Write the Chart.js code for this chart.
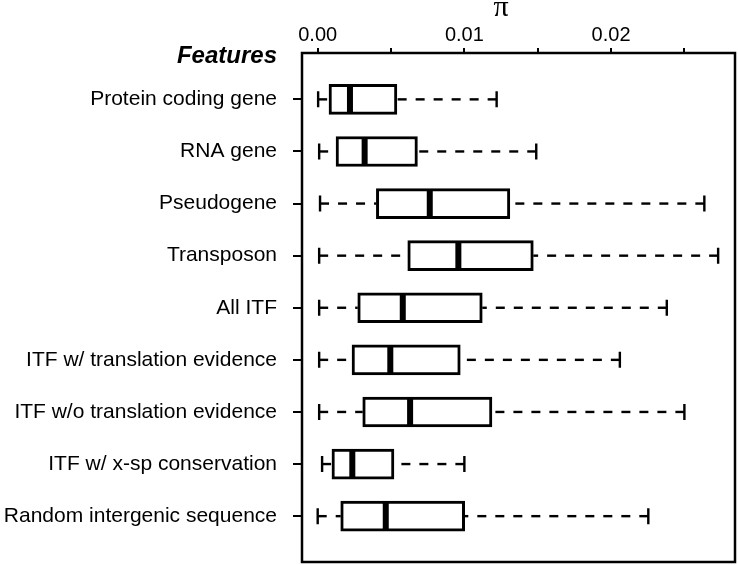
<!DOCTYPE html>
<html>
<head>
<meta charset="utf-8">
<script src="https://cdn.jsdelivr.net/npm/chart.js@4"></script>
<style>
  html, body { margin: 0; padding: 0; background: #fff; }
  #wrap { width: 738px; height: 565px; }
</style>
</head>
<body>
<div id="wrap"><canvas id="chart" width="738" height="565"></canvas></div>
<script>
const features = [
    "Protein coding gene", "RNA gene", "Pseudogene", "Transposon", "All ITF",
    "ITF w/ translation evidence", "ITF w/o translation evidence",
    "ITF w/ x-sp conservation", "Random intergenic sequence"
]
const whiskerLow  = [0.00003, 0.0001, 0.00016, 0.0001, 0.0001, 0.0001, 0.0001, 0.0003, 0.0000]
const q1          = [0.00077, 0.00125, 0.0040, 0.00614, 0.00273, 0.00234, 0.00307, 0.00097, 0.00157]
const median      = [0.0022, 0.0032, 0.00764, 0.00959, 0.0058, 0.00495, 0.0063, 0.00236, 0.00464]
const q3          = [0.0054, 0.0068, 0.0131, 0.0147, 0.01122, 0.00972, 0.01188, 0.0052, 0.01002]
const whiskerHigh = [0.0122, 0.0149, 0.02636, 0.0273, 0.0238, 0.0206, 0.0250, 0.0100, 0.02254]

const xTickValues = [0, 0.005, 0.01, 0.015, 0.02, 0.025]
const xTickLabels = ["0.00", "", "0.01", "", "0.02", ""]

Chart.defaults.font.family = "'Liberation Sans', Arial, sans-serif"
Chart.defaults.color = "#000"

// whiskers go under the boxes, medians + frame on top
const boxExtras = {
    id: "boxExtras",
    beforeDatasetsDraw(chart){
        const {ctx, scales: {x, y}} = chart
        ctx.save()
        ctx.strokeStyle = "#000"
        ctx.lineWidth = 2.4
        features.forEach((f, i)=>{
            const py = y.getPixelForValue(i)
            ctx.setLineDash([9, 9])
            ctx.beginPath()
            ctx.moveTo(x.getPixelForValue(whiskerLow[i]), py)
            ctx.lineTo(x.getPixelForValue(q1[i]), py)
            ctx.stroke()
            ctx.beginPath()
            ctx.moveTo(x.getPixelForValue(whiskerHigh[i]), py)
            ctx.lineTo(x.getPixelForValue(q3[i]), py)
            ctx.stroke()
            ctx.setLineDash([])
            ctx.beginPath()
            ;[whiskerLow[i], whiskerHigh[i]].forEach(v=>{
                const px = x.getPixelForValue(v)
                ctx.moveTo(px, py - 8)
                ctx.lineTo(px, py + 8)
            })
            ctx.stroke()
        })
        ctx.restore()
    },
    afterDatasetsDraw(chart){
        const {ctx, chartArea, scales: {x, y}} = chart
        ctx.save()
        ctx.fillStyle = "#000"
        features.forEach((f, i)=>{
            const py = y.getPixelForValue(i)
            ctx.fillRect(x.getPixelForValue(median[i]) - 3, py - 14, 6, 28)
        })
        ctx.strokeStyle = "#000"
        ctx.lineWidth = 2.5
        ctx.strokeRect(chartArea.left, chartArea.top, chartArea.right - chartArea.left, chartArea.bottom - chartArea.top)

        ctx.textAlign = "right"
        ctx.textBaseline = "alphabetic"
        ctx.font = "italic bold 24px 'Liberation Sans', Arial, sans-serif"
        ctx.fillText("Features", chartArea.left - 25, 63)

        ctx.textAlign = "center"
        ctx.font = "30px 'Liberation Serif', 'DejaVu Serif', serif"
        ctx.fillText("π", (x.getPixelForValue(xTickValues[0]) + x.getPixelForValue(xTickValues[xTickValues.length - 1])) / 2, 16)
        ctx.restore()
    }
}

new Chart(document.querySelector("#chart"), {
    type: "bar",
    data: {
        datasets: [{
            data: features.map((f, i)=>({x: [q1[i], q3[i]], y: i})),
            backgroundColor: "#fff",
            borderColor: "#000",
            borderWidth: 3,
            borderSkipped: false,
            barThickness: 30
        }]
    },
    options: {
        indexAxis: "y",
        responsive: false,
        animation: false,
        layout: {padding: {left: 0, right: 3, top: 0, bottom: 3}},
        plugins: {
            legend: {display: false},
            tooltip: {enabled: false}
        },
        scales: {
            x: {
                type: "linear",
                position: "top",
                min: -0.00107,
                max: 0.02845,
                afterBuildTicks: scale => { scale.ticks = xTickValues.map(v=>({value: v})) },
                afterFit: scale => { scale.height = 53; scale.paddingLeft = 0; scale.paddingRight = 0 },
                ticks: {
                    callback: (v, idx) => xTickLabels[idx],
                    font: {size: 20},
                    padding: 1,
                    maxRotation: 0,
                    autoSkip: false
                },
                grid: {
                    drawOnChartArea: false,
                    drawTicks: true,
                    tickLength: 5,
                    color: "#000",
                    lineWidth: 2
                },
                border: {display: false}
            },
            y: {
                type: "linear",
                reverse: true,
                offset: false,
                min: -0.89,
                max: 8.88,
                afterBuildTicks: scale => { scale.ticks = features.map((f, i)=>({value: i})) },
                afterFit: scale => { scale.width = 302; scale.paddingTop = 0; scale.paddingBottom = 0 },
                ticks: {
                    callback: (v) => features[v],
                    font: {size: 21},
                    padding: 16,
                    autoSkip: false
                },
                grid: {
                    offset: false,
                    drawOnChartArea: false,
                    drawTicks: true,
                    tickLength: 9,
                    color: "#000",
                    lineWidth: 2
                },
                border: {display: false}
            }
        }
    },
    plugins: [boxExtras]
})
</script>
</body>
</html>
